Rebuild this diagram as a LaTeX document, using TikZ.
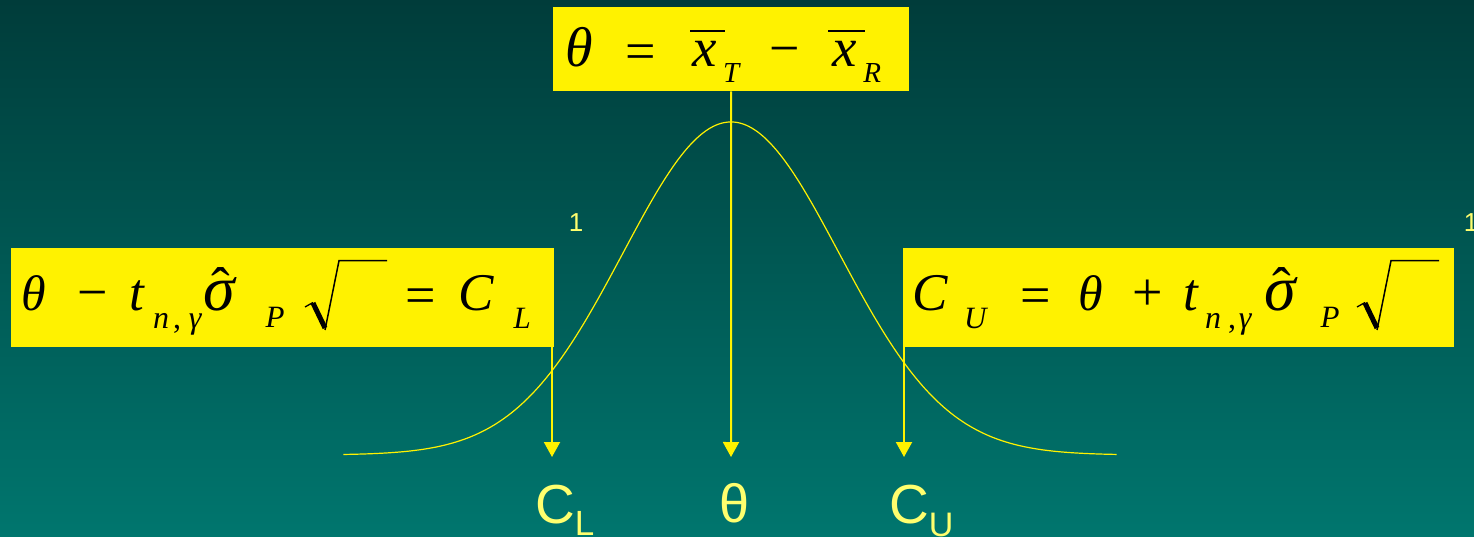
\documentclass[tikz,border=0pt]{standalone}
\usepackage{fontspec}
\setmainfont{Liberation Serif}
\newfontfamily\sansfam{Liberation Sans}
\usetikzlibrary{arrows.meta}
\definecolor{bgtop}{RGB}{0,60,58}
\definecolor{bgbot}{RGB}{0,118,110}
\definecolor{paleyel}{RGB}{255,255,110}
\newcommand\fs[1]{\fontsize{#1}{#1}\selectfont}
\newcommand\gl[3]{\rlap{\hspace*{#1pt}\makebox[0pt]{\raisebox{#2pt}{#3}}}}
\tikzset{
  ybox/.style={fill=yellow, inner sep=0pt, text=black, anchor=north west},
  arr/.style={draw=yellow, line width=2pt, -{Triangle[width=16pt,length=15pt]}},
  curvestyle/.style={draw=yellow, line width=1.2pt},
  lbl/.style={text=paleyel, inner sep=0pt, font=\sansfam},
}
\begin{document}
\begin{tikzpicture}[x=1pt,y=-1pt]
\useasboundingbox (0,0) rectangle (1474,537);
\shade[top color=bgtop, bottom color=bgbot] (0,0) rectangle (1474,537);

% bell curve
\draw[curvestyle, smooth] plot[domain=-3.59:3.57, samples=160]
  ({731+108*\x},{455-333*exp(-\x*\x/2)});

% top box
\node[ybox] (tbox) at (553,7) {\rule[-25pt]{0pt}{84pt}%
  \gl{26}{0}{\fs{56}\itshape θ}%
  \gl{88}{-3}{\fs{54}=}%
  \gl{151.5}{0}{\fs{55}\itshape x}%
  \gl{154.5}{34}{\rule{35pt}{2.5pt}}%
  \gl{178}{-16}{\fs{29}\itshape T}%
  \gl{232}{0}{\fs{54}−}%
  \gl{291}{0}{\fs{55}\itshape x}%
  \gl{293.5}{34}{\rule{37pt}{2.5pt}}%
  \gl{319}{-16}{\fs{29}\itshape R}%
  \hspace*{356pt}};

% left box
\node[ybox] (lbox) at (11,248) {\rule[-37pt]{0pt}{99pt}%
  \gl{22.3}{0}{\fs{50}\itshape θ}%
  \gl{81.5}{0}{\fs{54}−}%
  \gl{125.5}{0}{\fs{53}\itshape t}%
  \gl{150}{-18}{\fs{32}\itshape n}%
  \gl{166}{-18}{\fs{32},}%
  \gl{184}{-18}{\fs{32}\itshape γ}%
  \gl{208}{0}{\fs{64}\itshape σ}%
  \gl{210}{4}{\fs{56}ˆ}%
  \gl{264}{-17}{\fs{31}\itshape P}%
  \gl{410}{-3}{\fs{54}=}%
  \gl{464.5}{0}{\fs{53}\itshape C}%
  \gl{511}{-18}{\fs{31}\itshape L}%
  \hspace*{543pt}};

% right box
\node[ybox] (rbox) at (903,248) {\rule[-37pt]{0pt}{99pt}%
  \gl{26.5}{0}{\fs{53}\itshape C}%
  \gl{72}{-18}{\fs{31}\itshape U}%
  \gl{133}{-3}{\fs{54}=}%
  \gl{188}{0}{\fs{50}\itshape θ}%
  \gl{244.5}{0}{\fs{54}+}%
  \gl{287.5}{0}{\fs{53}\itshape t}%
  \gl{310}{-18}{\fs{32}\itshape n}%
  \gl{329}{-18}{\fs{32},}%
  \gl{342}{-18}{\fs{32}\itshape γ}%
  \gl{377}{0}{\fs{64}\itshape σ}%
  \gl{379}{4}{\fs{56}ˆ}%
  \gl{427}{-17}{\fs{31}\itshape P}%
  \hspace*{551pt}};

% radicals
\foreach \xo in {305,1357}{
  \draw[black, line width=1.3pt] (\xo,307) -- (\xo+8,302.5);
  \draw[black, line width=5pt] (\xo+8,303) -- (\xo+20,328);
  \draw[black, line width=1.5pt] (\xo+20,330) -- (\xo+34,260.7) -- (\xo+82,260.7);
}

% stray "1" labels
\node[lbl, font=\sansfam\fs{26}, anchor=base] (oneL) at (576,232) {1};
\node[lbl, font=\sansfam\fs{26}, anchor=base] (oneR) at (1471,232) {1};

% arrow tips
\coordinate (tipL) at (552,457);
\coordinate (tipM) at (731,457);
\coordinate (tipR) at (904,457);
\draw[arr] (tipL |- lbox.south) -- (tipL);
\draw[arr] (tbox.south) -- (tipM);
\draw[arr] (tipR |- rbox.south) -- (tipR);

% bottom labels
\node[lbl, anchor=base west] (labCL) at (535,523) {\fs{55}C\raisebox{-12pt}{\fs{35}L}};
\node[lbl, anchor=base] (labTh) at (734.5,522) {\fs{54}θ};
\node[lbl, anchor=base west] (labCU) at (889,523) {\fs{55}C\raisebox{-13pt}{\fs{34}U}};
\end{tikzpicture}
\end{document}
